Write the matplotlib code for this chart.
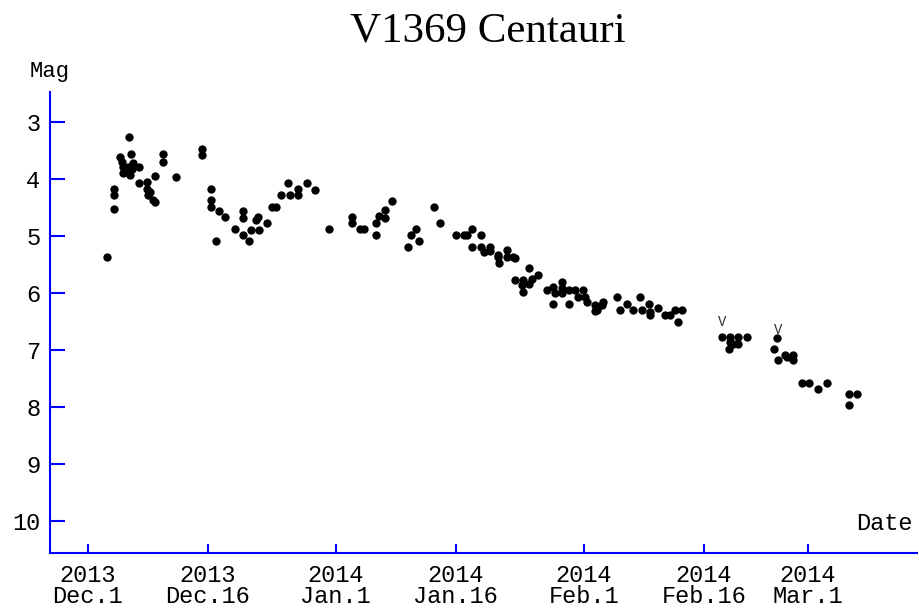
import pandas as pd
import matplotlib.pyplot as plt

# observations: days after 2013 Dec.1 (0h UT) and magnitude
days = [2.37,
        3.29, 3.29, 3.29,
        4.1, 4.25, 4.45, 4.66, 4.45, 4.87, 5.08, 5.5, 5.29, 5.7, 6.45,
        5.2, 5.4,
        6.45, 7.37, 7.37, 7.8, 7.6, 8.2, 8.4, 8.4,
        9.37, 9.37, 11.1, 14.3, 14.3,
        15.4, 15.4, 15.4, 16.4, 17.2, 16.1, 18.4,
        19.4, 19.4, 19.4, 20.2, 20.4, 21.3, 21.0, 21.4, 22.45,
        23.1, 23.5, 24.2, 25.1, 25.3, 26.3, 26.3, 27.4, 28.4,
        30.2, 33.1, 33.1, 34.0, 34.5,
        36.1, 36.1, 36.4, 37.2, 37.2, 38.1,
        40.1, 40.4, 41.1, 41.4, 43.3, 44.1,
        46.1, 47.0, 47.4, 48.1, 49.2,
        48.1, 49.2, 49.5, 50.3, 50.3,
        51.3, 52.4, 51.3, 52.4, 53.2, 51.4, 53.4,
        55.1, 56.3,
        53.4, 54.45, 55.5, 54.25, 55.1, 54.45,
        57.4, 58.2, 59.25, 59.25, 60.1, 60.9, 61.95, 58.4, 59.25,
        58.2, 60.1,
        61.3, 62.2, 62.4, 63.4, 63.4, 64.25, 64.45, 63.6,
        66.1, 66.5, 67.4, 68.2, 69.0, 69.25, 70.1, 70.3, 70.3, 71.3,
        72.2, 72.8, 73.4, 74.25, 73.8,
        79.25, 80.3, 81.3, 82.4, 80.3, 80.7, 81.3, 80.1,
        86.1, 85.8, 86.3, 87.2, 88.2, 88.2, 87.4,
        89.25, 90.1, 91.3, 92.4,
        95.1, 96.1, 95.1]
mags = [5.37,
        4.17, 4.29, 4.52,
        3.61, 3.70, 3.79, 3.85, 3.90, 3.88, 3.79, 3.82, 3.94, 3.73, 3.79,
        3.26, 3.57,
        4.07, 4.05, 4.17, 4.23, 4.29, 4.37, 4.40, 3.95,
        3.57, 3.70, 3.96, 3.47, 3.58,
        4.18, 4.37, 4.49, 4.57, 4.67, 5.09, 4.88,
        4.56, 4.68, 4.99, 5.09, 4.89, 4.67, 4.72, 4.89, 4.77,
        4.49, 4.49, 4.29, 4.07, 4.29, 4.17, 4.29, 4.07, 4.19,
        4.88, 4.67, 4.77, 4.88, 4.88,
        4.77, 4.99, 4.65, 4.55, 4.68, 4.39,
        5.20, 4.99, 4.88, 5.09, 4.50, 4.77,
        4.99, 4.99, 4.99, 4.88, 4.99,
        5.20, 5.20, 5.28, 5.20, 5.27,
        5.34, 5.25, 5.37, 5.37, 5.37, 5.48, 5.38,
        5.57, 5.69,
        5.78, 5.78, 5.75, 5.87, 5.84, 5.98,
        5.95, 5.89, 5.81, 5.92, 5.95, 5.95, 5.95, 6.01, 6.01,
        6.19, 6.19,
        6.07, 6.07, 6.16, 6.22, 6.31, 6.22, 6.16, 6.30,
        6.07, 6.30, 6.19, 6.30, 6.07, 6.30, 6.19, 6.33, 6.39, 6.27,
        6.39, 6.39, 6.30, 6.30, 6.51,
        6.77, 6.77, 6.77, 6.77, 6.86, 6.89, 6.89, 6.99,
        6.79, 6.99, 7.17, 7.09, 7.09, 7.18, 7.12,
        7.59, 7.59, 7.69, 7.59,
        7.77, 7.77, 7.97]

# V-band observations
v_days = [79.3, 86.25]
v_mags = [6.51, 6.65]

tick_dates = ['2013-12-01', '2013-12-16', '2014-01-01', '2014-01-16',
              '2014-02-01', '2014-02-16', '2014-03-01']
tick_labels = ['2013\nDec.1', '2013\nDec.16', '2014\nJan.1', '2014\nJan.16',
               '2014\nFeb.1', '2014\nFeb.16', '2014\nMar.1']
mag_ticks = [3, 4, 5, 6, 7, 8, 9, 10]

start = pd.Timestamp('2013-12-01')
tick_pos = [(pd.Timestamp(t) - start).days for t in tick_dates]

mono = 'Liberation Mono'
blue = '#0000ff'

fig = plt.figure(figsize=(9.2, 6.1), dpi=100)
ax = fig.add_axes([50 / 920, 1 - 552.7 / 610, 867 / 920, 461 / 610])

ax.plot(days, mags, 'o', color='black', ms=6, mec='black', mew=0)
for d, m in zip(v_days, v_mags):
    ax.text(d, m, 'V', family=mono, fontsize=10, color='#333333', ha='center', va='center')

ax.set_xlim(-4.71, 103.66)
ax.set_ylim(10.56, 2.47)

for s in ['top', 'right']:
    ax.spines[s].set_visible(False)
for s in ['left', 'bottom']:
    ax.spines[s].set_color(blue)
    ax.spines[s].set_linewidth(1.5)

ax.set_yticks(mag_ticks)
ax.set_yticklabels([str(m) for m in mag_ticks], family=mono, fontsize=17)
ax.set_xticks(tick_pos)
ax.set_xticklabels(tick_labels, family=mono, fontsize=17, linespacing=0.9)
ax.tick_params(axis='y', direction='in', length=11, width=1.5, color=blue, pad=7)
ax.tick_params(axis='x', direction='in', length=6.5, width=1.5, color=blue, pad=8)

fig.text(50 / 920, 1 - 72 / 610, 'Mag', family=mono, fontsize=16, ha='center', va='center')
fig.text(884 / 920, 1 - 523 / 610, 'Date', family=mono, fontsize=17, ha='center', va='center')
fig.text(488 / 920, 1 - 31 / 610, 'V1369 Centauri', family='Liberation Serif', fontsize=31,
         ha='center', va='center')

fig.savefig('out.png')
